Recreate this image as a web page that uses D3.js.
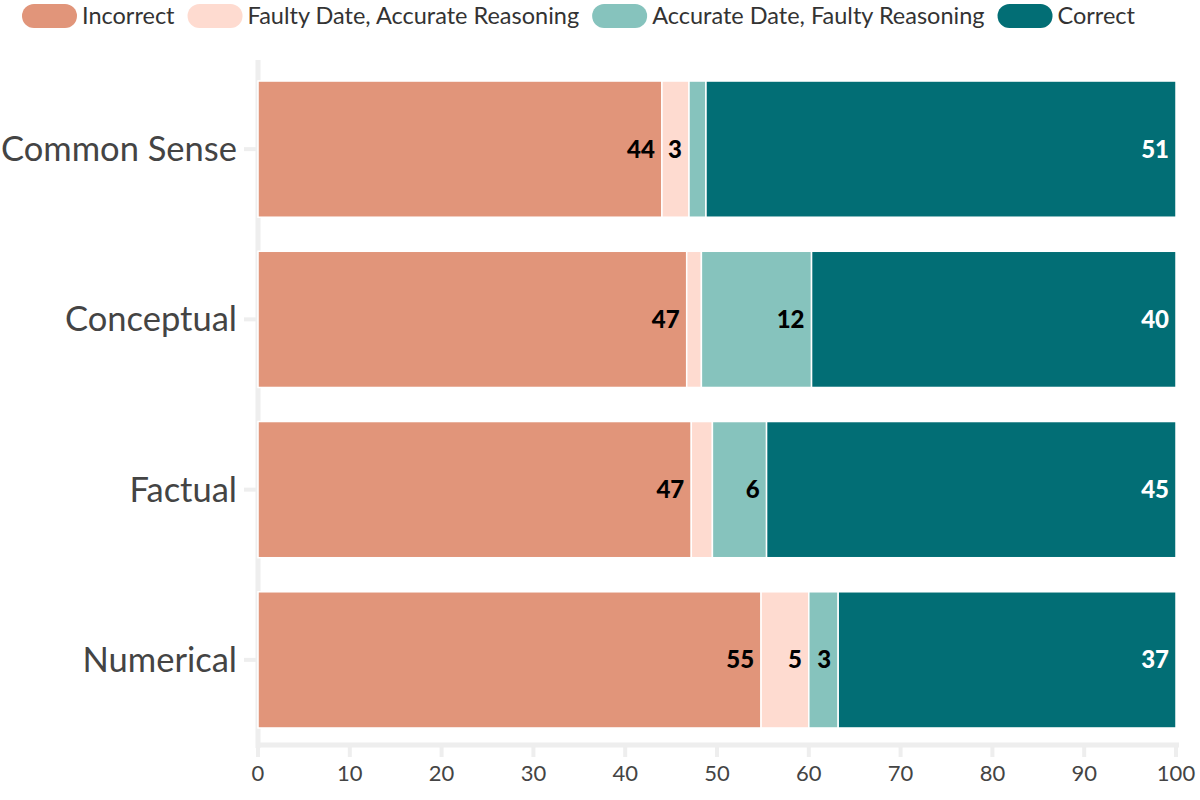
<!DOCTYPE html>
<html><head><meta charset="utf-8">
<script src="https://cdn.jsdelivr.net/npm/d3@7"></script>
<style>
body{margin:0;background:#fff;}
text{font-family:"Source Sans Pro","Lato","Noto Sans",sans-serif;}
</style></head>
<body><svg id="c" width="1200" height="800"></svg>
<script>
const categories = ["Common Sense","Conceptual","Factual","Numerical"];
const seriesNames = ["Incorrect","Faulty Date, Accurate Reasoning","Accurate Date, Faulty Reasoning","Correct"];
const incorrect = [44.0, 46.7, 47.2, 54.8];
const faultyDate = [2.95, 1.6, 2.3, 5.2];
const accurateDate = [1.85, 12.0, 5.9, 3.2];
const correct = [51.2, 39.7, 44.6, 36.8];
const xTicks = [0,10,20,30,40,50,60,70,80,90,100];
const colors = ["#e1957a","#fedbd0","#86c3bd","#026e75"];
const labelColors = ["#000","#000","#000","#fff"];

const series = [incorrect, faultyDate, accurateDate, correct];
const rows = categories.map((c,i)=>{ const o={cat:c}; seriesNames.forEach((s,j)=>o[s]=series[j][i]); return o;});
const stacked = d3.stack().keys(seriesNames)(rows);

const svg = d3.select("#c");
const x = d3.scaleLinear().domain([0,100]).range([258, 1176]);
const y = d3.scaleBand().domain(categories).range([64, 745]).paddingInner(0.2).paddingOuter(0.1);

// axes
const axisColor="#eeeeee";
svg.append("line").attr("x1",x(0)).attr("x2",x(0)).attr("y1",60).attr("y2",748).attr("stroke",axisColor).attr("stroke-width",5);
svg.append("line").attr("x1",x(0)-2).attr("x2",x(100)+3).attr("y1",745).attr("y2",745).attr("stroke",axisColor).attr("stroke-width",5);
const xg = svg.append("g");
xTicks.forEach(t=>{
  xg.append("line").attr("x1",x(t)).attr("x2",x(t)).attr("y1",745).attr("y2",757).attr("stroke",axisColor).attr("stroke-width",4);
  xg.append("text").attr("x",x(t)).attr("y",781).attr("text-anchor","middle").attr("font-size",22).attr("fill","#444").text(t);
});
categories.forEach(c=>{
  const cy = y(c)+y.bandwidth()/2;
  svg.append("line").attr("x1",244).attr("x2",258).attr("y1",cy).attr("y2",cy).attr("stroke",axisColor).attr("stroke-width",4);
  svg.append("text").attr("x",237).attr("y",cy).attr("dy","0.35em").attr("text-anchor","end").attr("font-size",34.5).attr("fill","#444").text(c);
});

// bars
stacked.forEach((s,si)=>{
  const g = svg.append("g");
  g.selectAll("rect").data(s).join("rect")
    .attr("x",d=>x(d[0])).attr("width",d=>x(d[1])-x(d[0]))
    .attr("y",d=>y(d.data.cat)).attr("height",y.bandwidth())
    .attr("fill",colors[si]).attr("stroke","#fff").attr("stroke-width",1.5);
  g.selectAll("text").data(s.filter(d=>d[1]-d[0]>=2.5)).join("text")
    .attr("x",d=>x(d[1])-7).attr("y",d=>y(d.data.cat)+y.bandwidth()/2).attr("dy","0.35em")
    .attr("text-anchor","end").attr("font-size",24).attr("font-weight",900).attr("fill",labelColors[si])
    .text(d=>Math.round(d[1]-d[0]));
});

// legend
const lg = svg.append("g");
let lx = 22;
seriesNames.forEach((n,i)=>{
  lg.append("rect").attr("x",lx).attr("y",4).attr("width",55).attr("height",24).attr("rx",12).attr("fill",colors[i]);
  const t = lg.append("text").attr("x",lx+60).attr("y",16).attr("dy","0.35em").attr("font-size",23.5).attr("fill","#333").text(n);
  lx += 60 + t.node().getComputedTextLength() + 13;
});
</script></body></html>
